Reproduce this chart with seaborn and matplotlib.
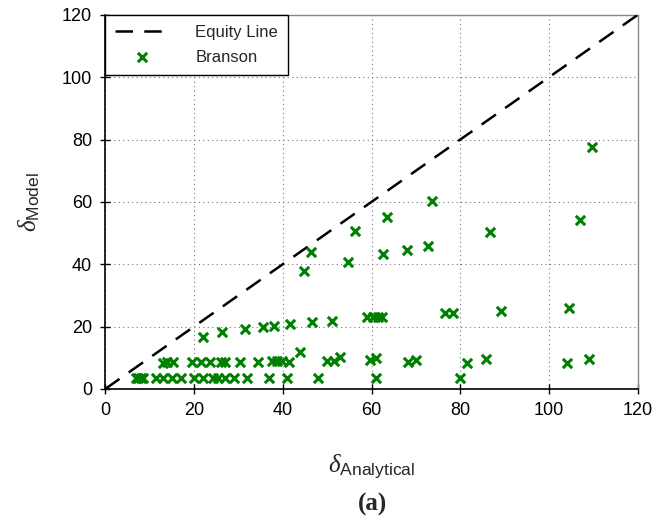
import numpy as np
import pandas as pd
import matplotlib
matplotlib.use("Agg")
import matplotlib.pyplot as plt
import seaborn as sns

# Branson data
delta_analytical = [
    7, 7.5, 8, 8.5, 11.5, 13, 15, 17, 20, 22, 24.4, 25.5, 27, 29, 32, 37, 41, 48, 61, 80,
    13, 14, 15.2, 19.5, 21.5, 23.6, 26, 27, 30.4, 34.5, 37.5, 38.7, 39.8, 41.3, 44, 50, 51.5, 53,
    59.7, 61, 68.3, 70, 81.6, 85.8, 104, 109,
    22, 26.3, 31.5, 35.5, 38.1, 41.7, 46.5, 51.2, 59, 60.4, 61.5, 62.3, 76.6, 78.4, 89.2, 104.6,
    44.8, 46.4, 54.8, 56.2, 62.5, 63.6, 67.9, 72.8, 73.7, 86.7, 107, 109.7,
]
delta_model = [
    3.5, 3.5, 3.5, 3.5, 3.5, 3.5, 3.5, 3.5, 3.5, 3.5, 3.5, 3.5, 3.5, 3.5, 3.5, 3.5, 3.5, 3.5, 3.5, 3.5,
    8.3, 8.5, 8.5, 8.5, 8.5, 8.5, 8.5, 8.5, 8.5, 8.7, 9.0, 9.0, 9.0, 8.8, 12.0, 9.0, 9.0, 10.4,
    9.3, 9.8, 8.8, 9.3, 8.2, 9.5, 8.3, 9.7,
    16.6, 18.4, 19.1, 20.0, 20.2, 20.9, 21.4, 21.8, 23.0, 23.0, 23.0, 23.0, 24.3, 24.3, 25.1, 25.9,
    37.9, 44.0, 40.8, 50.7, 43.2, 55.0, 44.6, 45.9, 60.4, 50.2, 54.2, 77.6,
]
equity_x = [0, 120]
equity_y = [0, 120]
ticks = [0, 20, 40, 60, 80, 100, 120]

sns.set_theme(style="white")
plt.rcParams['font.family'] = ['Liberation Sans', 'DejaVu Sans']
plt.rcParams['mathtext.fontset'] = 'custom'
plt.rcParams['mathtext.it'] = 'Liberation Serif:italic'
plt.rcParams['mathtext.rm'] = 'Liberation Sans'

fig = plt.figure(figsize=(6.7, 5.29), dpi=100)
ax = fig.add_axes([0.157, 0.2647, 0.795, 0.7073])

df = pd.DataFrame({"x": delta_analytical, "y": delta_model})
eq = pd.DataFrame({"x": equity_x, "y": equity_y})

sns.lineplot(data=eq, x="x", y="y", ax=ax, color="black", lw=1.8,
             dashes=False, label="Equity Line", zorder=3)
ax.lines[-1].set_dashes([7, 4.5])
sns.scatterplot(data=df, x="x", y="y", ax=ax, marker="x", color="#008000",
                s=45, linewidth=2.2, label="Branson", zorder=4)

ax.set_xlim(0, 120)
ax.set_ylim(0, 120)
ax.set_xticks(ticks)
ax.set_yticks(ticks)
ax.tick_params(axis="both", direction="inout", length=7, width=1, colors="black",
               labelsize=13, pad=6, bottom=True, left=True)
ax.grid(True, linestyle=(0, (1, 3)), color="#777777", linewidth=0.8)
for side in ["left", "bottom"]:
    ax.spines[side].set_color("black")
    ax.spines[side].set_linewidth(1.2)
for side in ["top", "right"]:
    ax.spines[side].set_color("#888888")
    ax.spines[side].set_linewidth(1.0)

ax.set_xlabel(r"$\mathit{\delta}_{\mathrm{Analytical}}$", fontsize=18, labelpad=24)
ax.set_ylabel(r"$\mathit{\delta}_{\mathrm{Model}}$", fontsize=18, labelpad=14)

leg = ax.legend(loc="upper left", fontsize=12, frameon=True, fancybox=False,
                edgecolor="black", framealpha=1, borderaxespad=0, handlelength=3.2,
                borderpad=0.6, labelspacing=0.6, handletextpad=1.6)
leg.get_frame().set_linewidth(1.0)

fig.text(0.556, 0.047, "(a)", ha="center", va="center", fontsize=18,
         fontweight="bold", family="Liberation Serif")

fig.savefig("out.png", dpi=100)
